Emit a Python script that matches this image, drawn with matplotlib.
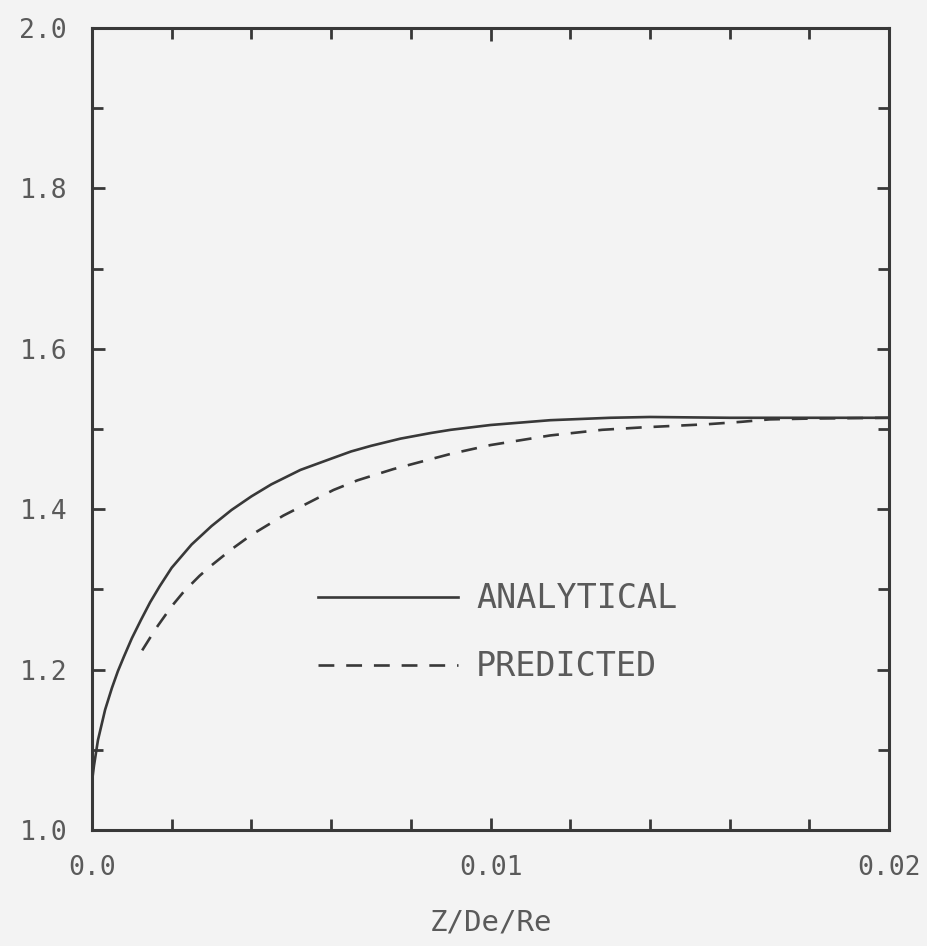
"""Analytical vs predicted curve, Z/De/Re"""

import matplotlib
matplotlib.use("Agg")
import matplotlib.pyplot as plt
import numpy as np

# values (x in units of Z/De/Re)
x_analytical = [0.0, 0.00005, 0.00015, 0.00033, 0.00050, 0.00065, 0.00080, 0.0010,
                0.00123, 0.00146, 0.00170, 0.0020, 0.0025, 0.0030, 0.0035, 0.0040,
                0.0045, 0.00523, 0.0060, 0.0065, 0.0070, 0.00774, 0.0085, 0.0090,
                0.0100, 0.0115, 0.0130, 0.0140, 0.0160, 0.0200]
y_analytical = [1.060, 1.080, 1.112, 1.150, 1.177, 1.198, 1.216, 1.239,
                1.262, 1.284, 1.304, 1.327, 1.356, 1.379, 1.399, 1.416,
                1.431, 1.449, 1.463, 1.472, 1.479, 1.488, 1.495, 1.499,
                1.505, 1.511, 1.514, 1.515, 1.514, 1.514]

x_predicted = [0.00126, 0.00160, 0.0020, 0.0023, 0.0027, 0.0030, 0.0035, 0.0040,
               0.0048, 0.00606, 0.00666, 0.00756, 0.0090, 0.0100, 0.0115, 0.0128,
               0.0138, 0.01545, 0.0163, 0.0170, 0.0180, 0.0200]
y_predicted = [1.224, 1.251, 1.279, 1.297, 1.317, 1.330, 1.350, 1.368,
               1.392, 1.424, 1.436, 1.450, 1.469, 1.480, 1.492, 1.499,
               1.502, 1.506, 1.509, 1.512, 1.513, 1.514]

x_major = [0.0, 0.01, 0.02]
x_labels = ["0.0", "0.01", "0.02"]
y_major = [1.0, 1.2, 1.4, 1.6, 1.8, 2.0]
y_labels = ["1.0", "1.2", "1.4", "1.6", "1.8", "2.0"]

BG = "#f3f3f3"
INK = "#383838"
TXT = "#5a5a5a"


def main():
    plt.rcParams["font.family"] = ["DejaVu Sans Mono", "DejaVu Sans"]

    fig = plt.figure(figsize=(9.27, 9.46), dpi=100, facecolor=BG)
    ax = fig.add_axes([0.0992, 0.1226, 0.860, 0.8478], facecolor=BG)

    ax.plot(x_analytical, y_analytical, color=INK, lw=1.9, label="ANALYTICAL",
            solid_joinstyle="round")
    ax.plot(x_predicted, y_predicted, color=INK, lw=1.9, dashes=(6, 4.5),
            label="PREDICTED")

    ax.set_xlim(0, 0.02)
    ax.set_ylim(1.0, 2.0)

    ax.set_xticks(x_major)
    ax.set_xticklabels(x_labels)
    ax.set_xticks(np.arange(0.002, 0.0199, 0.002), minor=True)
    ax.set_yticks(y_major)
    ax.set_yticklabels(y_labels)
    ax.set_yticks(np.arange(1.1, 2.0, 0.2), minor=True)

    ax.tick_params(which="both", direction="in", top=True, right=True,
                   color=INK, width=2, labelsize=19, labelcolor=TXT, pad=18)
    ax.tick_params(which="major", length=9)
    ax.tick_params(which="minor", length=8)
    for spine in ax.spines.values():
        spine.set_linewidth(2.2)
        spine.set_color(INK)

    ax.set_xlabel("Z/De/Re", fontsize=21, color=TXT, labelpad=20)

    ax.legend(loc="upper left", bbox_to_anchor=(0.283, 0.309), frameon=False,
              fontsize=24, labelcolor=TXT, handlelength=4.2, handletextpad=0.55,
              labelspacing=1.05, borderpad=0, borderaxespad=0)

    fig.savefig("out.png", dpi=100, facecolor=BG)


if __name__ == "__main__":
    main()
